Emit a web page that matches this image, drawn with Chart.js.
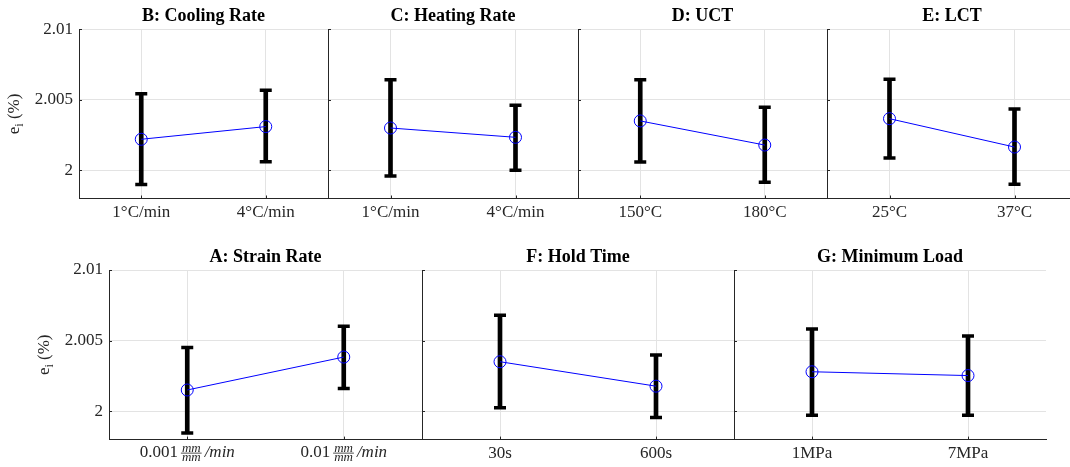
<!DOCTYPE html>
<html>
<head>
<meta charset="utf-8">
<script src="https://cdn.jsdelivr.net/npm/chart.js@4/dist/chart.umd.min.js"></script>
<style>
  html, body { margin: 0; padding: 0; background: #fff; width: 1070px; height: 467px; overflow: hidden; position: relative; }
  canvas { position: absolute; }
</style>
</head>
<body>
<script>
// Mean e_i (%) with interval bounds for each factor level
const coolingLabels = ['1°C/min', '4°C/min'];
const coolingMean = [2.0022, 2.0031];
const coolingLow = [1.9990, 2.0006];
const coolingHigh = [2.00543, 2.00567];

const heatingLabels = ['1°C/min', '4°C/min'];
const heatingMean = [2.0030, 2.00234];
const heatingLow = [1.9996, 2.0000];
const heatingHigh = [2.00643, 2.00461];

const uctLabels = ['150°C', '180°C'];
const uctMean = [2.0035, 2.00179];
const uctLow = [2.00059, 1.99915];
const uctHigh = [2.00643, 2.00447];

const lctLabels = ['25°C', '37°C'];
const lctMean = [2.00366, 2.00165];
const lctLow = [2.00087, 1.99901];
const lctHigh = [2.00645, 2.00435];

// strain rate levels are written as value + mm/mm fraction + /min
const strainRates = ['0.001', '0.01'];
const strainUnitParts = ['mm', 'mm', '/min'];
const strainMean = [2.00151, 2.00384];
const strainLow = [1.99846, 2.00161];
const strainHigh = [2.00452, 2.00602];

const holdLabels = ['30s', '600s'];
const holdMean = [2.00351, 2.00178];
const holdLow = [2.00026, 1.99957];
const holdHigh = [2.0068, 2.00398];

const loadLabels = ['1MPa', '7MPa'];
const loadMean = [2.0028, 2.00253];
const loadLow = [1.99972, 1.99972];
const loadHigh = [2.00583, 2.00533];

const yTicks = [2, 2.005, 2.01];
const yTickLabels = ['2', '2.005', '2.01'];
const yMin = 1.998;
const yMax = 2.01;
const yTitleParts = ['e', 'i', ' (%)'];

const SERIF = "'Liberation Serif', 'Times New Roman', serif";
const AXIS = '#262626';
const GRID = '#e3e3e3';

// two rows of panels
const rows = [
  { top: 0,   height: 230, titleTop: 7.5, titleBottom: 3.8, xHeight: 31.5 },
  { top: 240, height: 227, titleTop: 8,   titleBottom: 4,   xHeight: 27.4 }
];

const panels = [
  { title: 'B: Cooling Rate', labels: coolingLabels, mean: coolingMean, low: coolingLow, high: coolingHigh, row: 0, left: 79,  right: 328,  yAxis: true },
  { title: 'C: Heating Rate', labels: heatingLabels, mean: heatingMean, low: heatingLow, high: heatingHigh, row: 0, left: 328, right: 578,  yAxis: false },
  { title: 'D: UCT',          labels: uctLabels,     mean: uctMean,     low: uctLow,     high: uctHigh,     row: 0, left: 578, right: 827,  yAxis: false },
  { title: 'E: LCT',          labels: lctLabels,     mean: lctMean,     low: lctLow,     high: lctHigh,     row: 0, left: 827, right: 1077, yAxis: false },
  { title: 'A: Strain Rate',  labels: strainRates,   mean: strainMean,  low: strainLow,  high: strainHigh,  row: 1, left: 109, right: 422,  yAxis: true, fraction: true },
  { title: 'F: Hold Time',    labels: holdLabels,    mean: holdMean,    low: holdLow,    high: holdHigh,    row: 1, left: 422, right: 734,  yAxis: false },
  { title: 'G: Minimum Load', labels: loadLabels,    mean: loadMean,    low: loadLow,    high: loadHigh,    row: 1, left: 734, right: 1046, yAxis: false }
];

// inward tick marks, y-axis title with subscript, stacked-fraction x labels
const axisDecor = {
  id: 'axisDecor',
  afterDraw(chart, args, opts) {
    const { ctx, chartArea: a, scales: { x, y } } = chart;
    ctx.save();
    ctx.strokeStyle = AXIS;
    ctx.lineWidth = 1;
    ctx.beginPath();
    y.ticks.forEach(t => {
      const py = Math.round(y.getPixelForValue(t.value)) + 0.5;
      ctx.moveTo(a.left, py); ctx.lineTo(a.left + 3, py);
    });
    x.ticks.forEach((t, i) => {
      const px = Math.round(x.getPixelForTick(i)) + 0.5;
      ctx.moveTo(px, a.bottom); ctx.lineTo(px, a.bottom - 3);
    });
    ctx.stroke();

    ctx.fillStyle = AXIS;
    if (opts.yTitle) {
      ctx.save();
      ctx.translate(a.left - 60, (a.top + a.bottom) / 2);
      ctx.rotate(-Math.PI / 2);
      const big = `17px ${SERIF}`, small = `12px ${SERIF}`;
      ctx.font = big;
      const we = ctx.measureText(yTitleParts[0]).width;
      const wr = ctx.measureText(yTitleParts[2]).width;
      ctx.font = small;
      const wi = ctx.measureText(yTitleParts[1]).width;
      let tx = -(we + wi + wr) / 2;
      ctx.textBaseline = 'alphabetic';
      ctx.textAlign = 'left';
      ctx.font = big; ctx.fillText(yTitleParts[0], tx, 0); tx += we;
      ctx.font = small; ctx.fillText(yTitleParts[1], tx, 4); tx += wi;
      ctx.font = big; ctx.fillText(yTitleParts[2], tx, 0);
      ctx.restore();
    }

    if (opts.fraction) {
      const base = a.bottom + 17.7;
      const roman = `17px ${SERIF}`, ital = `italic 17px ${SERIF}`, tiny = `italic 13px ${SERIF}`;
      ctx.textBaseline = 'alphabetic';
      x.ticks.forEach((t, i) => {
        const cx = x.getPixelForTick(i);
        const val = chart.data.labels[i];
        ctx.font = roman; const wv = ctx.measureText(val).width;
        ctx.font = tiny;
        const wf = Math.max(ctx.measureText(strainUnitParts[0]).width, ctx.measureText(strainUnitParts[1]).width) + 2;
        ctx.font = ital; const wt = ctx.measureText(strainUnitParts[2]).width;
        const gap = 3;
        let xx = cx - (wv + gap + wf + gap + wt) / 2;
        ctx.textAlign = 'left';
        ctx.font = roman; ctx.fillText(val, xx, base); xx += wv + gap;
        ctx.font = tiny; ctx.textAlign = 'center';
        ctx.fillText(strainUnitParts[0], xx + wf / 2, base - 5.8);
        ctx.fillText(strainUnitParts[1], xx + wf / 2, base + 3.8);
        ctx.fillRect(xx, base - 4.6, wf, 0.8);
        xx += wf + gap;
        ctx.textAlign = 'left';
        ctx.font = ital; ctx.fillText(strainUnitParts[2], xx, base);
      });
    }
    ctx.restore();
  }
};

function makePanel(p) {
  const row = rows[p.row];
  // equal margins on both sides keep the title centred over the plot area
  const side = p.yAxis ? p.left : 40;
  const w = (p.right - p.left) + 2 * side;
  const cv = document.createElement('canvas');
  cv.width = w; cv.height = row.height;
  cv.style.left = (p.left - side) + 'px';
  cv.style.top = row.top + 'px';
  cv.style.width = w + 'px';
  cv.style.height = row.height + 'px';
  document.body.appendChild(cv);

  const capStyle = {
    type: 'line', showLine: false, pointStyle: 'line', pointRadius: 6,
    pointBorderWidth: 3.5, pointBorderColor: '#000', pointBackgroundColor: '#000', order: 2
  };

  const scales = {
    x: {
      type: 'category', offset: true,
      grid: { offset: false, color: GRID, drawTicks: false },
      border: { color: AXIS, width: 1 },
      ticks: { display: !p.fraction, color: AXIS, font: { family: SERIF, size: 17 }, padding: 3.5, maxRotation: 0, autoSkip: false },
      afterFit: s => { s.height = row.xHeight; }
    },
    y: {
      min: yMin, max: yMax,
      grid: { color: GRID, drawTicks: false },
      border: { color: AXIS, width: 1 },
      ticks: {
        display: p.yAxis, color: AXIS, font: { family: SERIF, size: 17 }, padding: 6,
        callback: v => yTickLabels[yTicks.indexOf(v)]
      },
      afterBuildTicks: s => { s.ticks = yTicks.map(v => ({ value: v })); },
      afterFit: s => { s.width = p.yAxis ? side : 0; }
    }
  };
  if (p.yAxis) {
    // empty right-hand box, same width as the tick-label column
    scales.yPad = {
      position: 'right', min: yMin, max: yMax,
      grid: { display: false }, border: { display: false }, ticks: { display: false },
      afterFit: s => { s.width = side; }
    };
  }

  new Chart(cv, {
    type: 'bar',
    data: {
      labels: p.labels,
      datasets: [
        { type: 'bar', data: p.low.map((l, i) => [l, p.high[i]]), backgroundColor: '#000',
          barThickness: 4, borderWidth: 0, order: 3 },
        Object.assign({ data: p.high }, capStyle),
        Object.assign({ data: p.low }, capStyle),
        { type: 'line', data: p.mean, borderColor: '#0000ff', borderWidth: 1, pointRadius: 6,
          pointBorderColor: '#0000ff', pointBackgroundColor: 'rgba(0,0,0,0)', pointBorderWidth: 1, order: 1 }
      ]
    },
    options: {
      responsive: false,
      animation: false,
      events: [],
      layout: { padding: { left: p.yAxis ? 0 : side, right: p.yAxis ? 0 : side, top: 0, bottom: 0 } },
      plugins: {
        legend: { display: false },
        tooltip: { enabled: false },
        title: {
          display: true, text: p.title, color: '#000',
          font: { family: SERIF, size: 18, weight: 'bold', lineHeight: 1 },
          padding: { top: row.titleTop, bottom: row.titleBottom }
        },
        axisDecor: { yTitle: p.yAxis, fraction: !!p.fraction }
      },
      scales
    },
    plugins: [axisDecor]
  });
}

panels.forEach(makePanel);
</script>
</body>
</html>
